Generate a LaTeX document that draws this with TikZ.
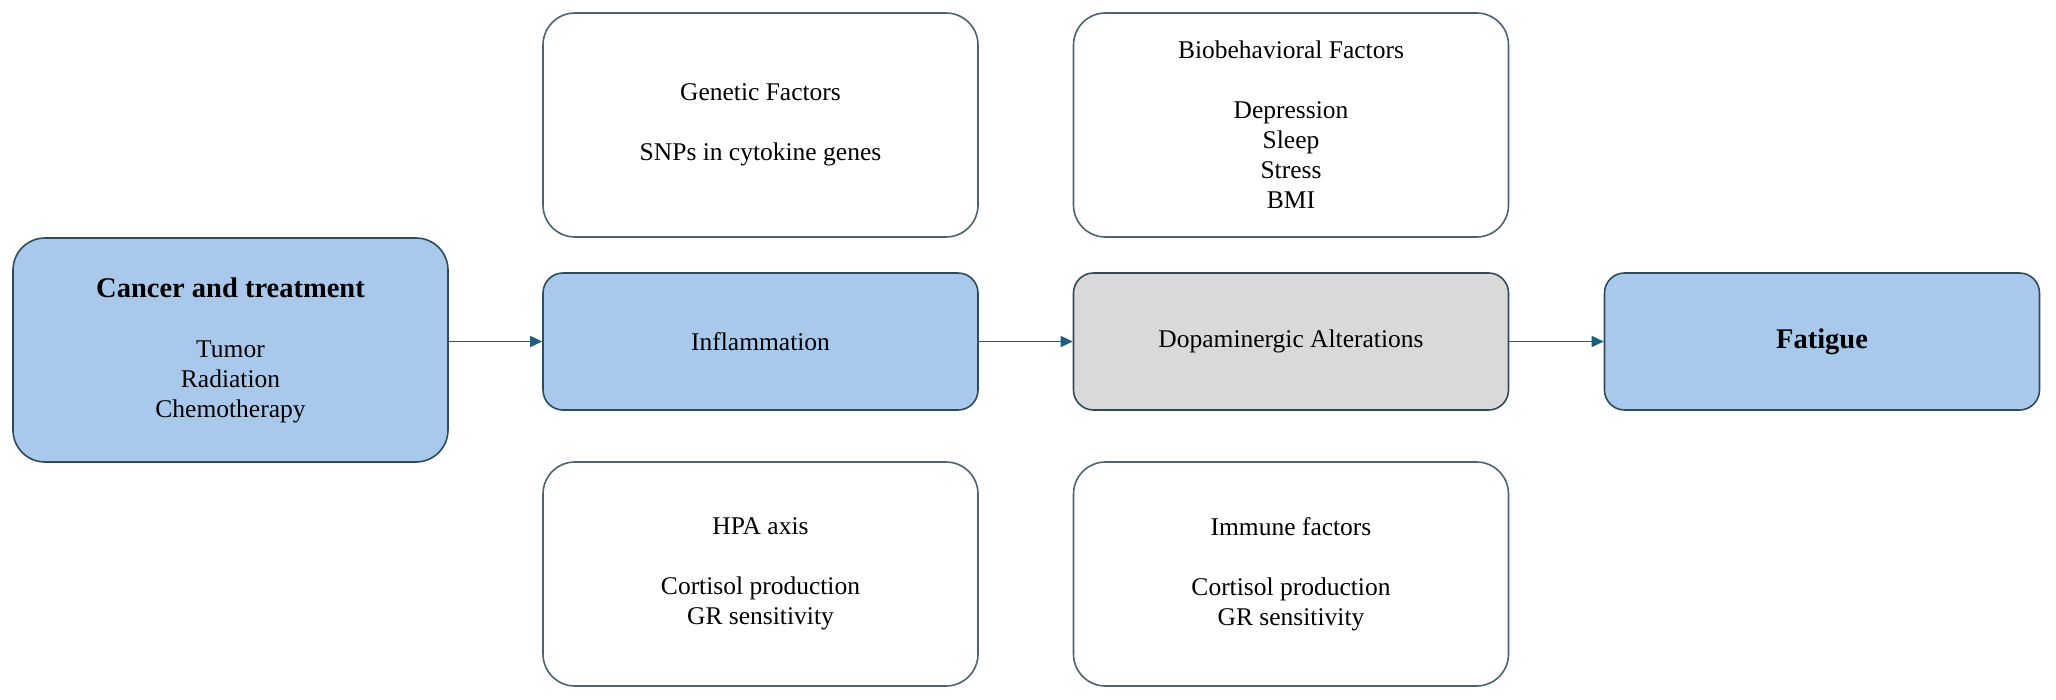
\documentclass[tikz,border=0pt]{standalone}
\usepackage{fontspec}
\setmainfont{Liberation Serif}
\usetikzlibrary{arrows.meta}
\definecolor{boxblue}{HTML}{A8C9EB}
\definecolor{boxgray}{HTML}{D9D9D9}
\definecolor{edgedark}{HTML}{2F4B5A}
\definecolor{edgelight}{HTML}{4A6470}
\definecolor{arrowcol}{HTML}{1E5F7E}
\newcommand{\boldtitle}[1]{{\fontsize{28.5}{30}\selectfont\bfseries #1}}
\tikzset{
  basebox/.style={draw, line width=1.6pt, minimum width=435pt, inner sep=0pt, align=center,
    font=\fontsize{25.5}{30}\selectfont},
  smallbox/.style={basebox, minimum height=137pt, rounded corners=20pt},
  bigbox/.style={basebox, minimum height=224pt, rounded corners=32pt},
  bluebox/.style={fill=boxblue, draw=edgedark},
  graybox/.style={fill=boxgray, draw=edgedark},
  whitebox/.style={fill=white, draw=edgelight},
  arr/.style={draw=arrowcol, line width=1.6pt, -{Triangle[length=12pt, width=11pt]}},
}
\begin{document}
\begin{tikzpicture}[x=1pt,y=-1pt]
\useasboundingbox (0,0) rectangle (2056,699);
\node[bigbox, bluebox] (cancer) at (230.5,350) {\boldtitle{Cancer and treatment}\\[30pt]Tumor\\Radiation\\Chemotherapy};
\node[smallbox, bluebox] (infl) at (760.5,341.5) {Inflammation};
\node[smallbox, graybox] (dopa) at (1291,341.5) {Dopaminergic Alterations};
\node[smallbox, bluebox] (fat) at (1822,341.5) {\boldtitle{Fatigue}};
\node[bigbox, whitebox] (gen) at (760.5,125) {Genetic Factors\\[30pt]SNPs in cytokine genes};
\node[bigbox, whitebox] (bio) at (1291,125) {Biobehavioral Factors\\[30pt]Depression\\Sleep\\Stress\\BMI};
\node[bigbox, whitebox] (hpa) at (760.5,574) {HPA axis\\[30pt]Cortisol production\\GR sensitivity};
\node[bigbox, whitebox] (imm) at (1291,574) {Immune factors\\[30pt]Cortisol production\\GR sensitivity};
\draw[arr] (infl.west -| cancer.east) -- (infl.west);
\draw[arr] (infl.east) -- (dopa.west);
\draw[arr] (dopa.east) -- (fat.west);
\end{tikzpicture}
\end{document}
